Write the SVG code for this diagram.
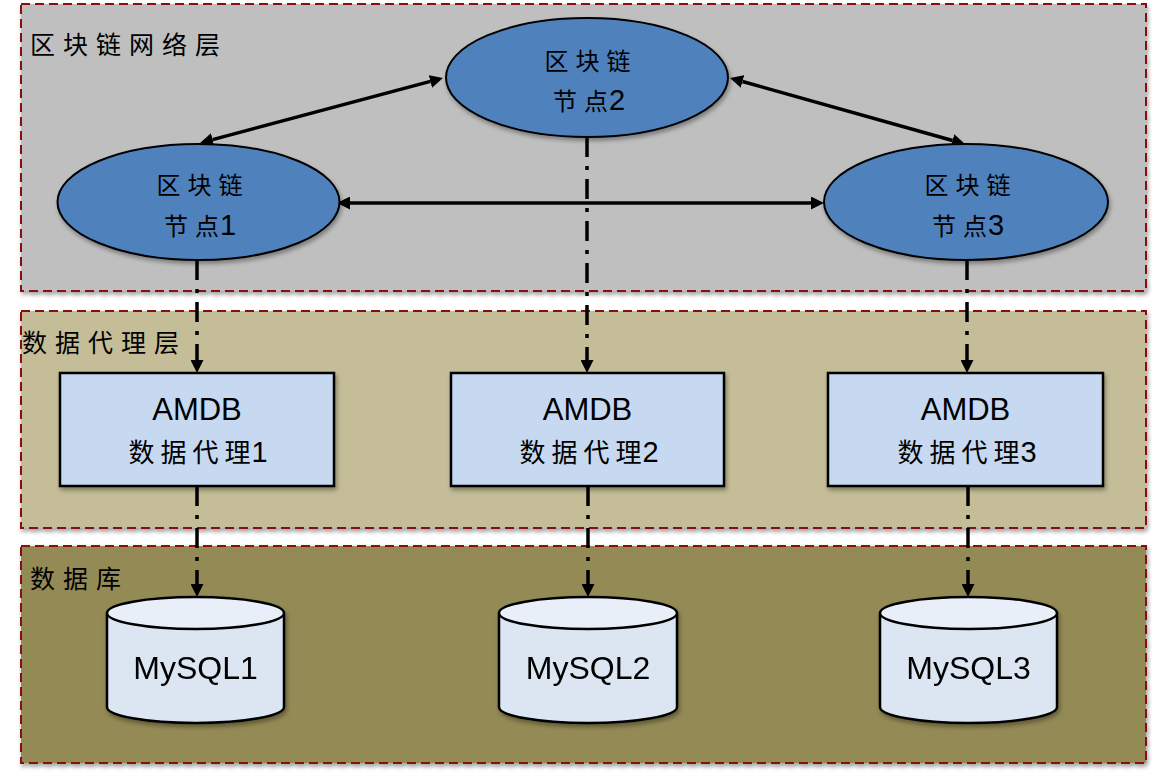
<svg xmlns="http://www.w3.org/2000/svg" width="1153" height="776" viewBox="0 0 1153 776">
<style>
.layer{stroke:#8B0A0A;stroke-width:2;stroke-dasharray:9 5;filter:url(#sh)}
.lbl{font-family:"Liberation Serif","Noto Sans CJK SC",serif;font-size:25px;letter-spacing:8px;fill:#000}
.ell{fill:#4F81BD;stroke:#000;stroke-width:2;filter:url(#sh)}
.box{fill:#C6D9F1;stroke:#000;stroke-width:2.5;filter:url(#sh)}
.cyl{fill:#DCE6F2;stroke:#000;stroke-width:2.5}
.cyltop{fill:#E9EFF8;stroke:#000;stroke-width:2.5}
.t{font-family:"Liberation Sans","Noto Sans CJK SC",sans-serif;fill:#000;text-anchor:middle}
.cj{font-size:24px;letter-spacing:7px}
.cj2{font-size:26px;letter-spacing:6px}
.ns{letter-spacing:1px}
.dg{font-size:29px;letter-spacing:0}
.en{font-size:31px}
.db{font-size:32px}
.arr{fill:none;stroke:#000;stroke-width:3.5}
.dd{fill:none;stroke:#000;stroke-width:3.5;stroke-dasharray:20 9 4 9}
</style>
<defs>
<filter id="sh" x="-10%" y="-10%" width="120%" height="130%">
<feDropShadow dx="1.5" dy="3" stdDeviation="2" flood-color="#000" flood-opacity="0.35"/>
</filter>
<marker id="ah" viewBox="0 0 13 13" refX="0" refY="6.5" markerWidth="13" markerHeight="13" markerUnits="userSpaceOnUse" orient="auto-start-reverse">
<path d="M0,0 L13,6.5 L0,13 z" fill="#000"/>
</marker>
</defs>
<rect width="1153" height="776" fill="#fff"/>
<g id="layers">
<g id="layer-blockchain">
<rect class="layer" x="21" y="4" width="1125" height="287" fill="#BFBFBF"/>
<text class="lbl" x="30" y="54">区块链网络层</text>
</g>
<g id="layer-proxy">
<rect class="layer" x="21" y="311" width="1125" height="217" fill="#C4BD97"/>
<text class="lbl" x="22" y="352">数据代理层</text>
</g>
<g id="layer-db">
<rect class="layer" x="21" y="546" width="1125" height="217" fill="#948A54"/>
<text class="lbl" x="30" y="588">数据库</text>
</g>
</g>
<g id="connectors">
<path class="arr" d="M212.6,139.6 L430.4,81.4" marker-start="url(#ah)" marker-end="url(#ah)"/>
<path class="arr" d="M742.5,81.5 L952.5,140.5" marker-start="url(#ah)" marker-end="url(#ah)"/>
<path class="arr" d="M350,203 L811,203" marker-start="url(#ah)" marker-end="url(#ah)"/>
<path class="dd" d="M197,260 L197,360" marker-end="url(#ah)"/>
<path class="dd" d="M587,137 L587,360" marker-end="url(#ah)"/>
<path class="dd" d="M967,260 L967,360" marker-end="url(#ah)"/>
<path class="dd" d="M197,486 L197,584" marker-end="url(#ah)"/>
<path class="dd" d="M588,486 L588,584" marker-end="url(#ah)"/>
<path class="dd" d="M968,486 L968,584" marker-end="url(#ah)"/>
</g>
<g id="node1">
<ellipse class="ell" cx="198.5" cy="202" rx="141" ry="58"/>
<text class="t cj" x="203" y="194">区块链</text>
<text class="t cj" x="200" y="235">节<tspan class="ns">点</tspan><tspan class="dg">1</tspan></text>
</g>
<g id="node2">
<ellipse class="ell" cx="587" cy="77.5" rx="141" ry="59.5"/>
<text class="t cj" x="591" y="70">区块链</text>
<text class="t cj" x="589" y="110">节<tspan class="ns">点</tspan><tspan class="dg">2</tspan></text>
</g>
<g id="node3">
<ellipse class="ell" cx="966" cy="202" rx="142" ry="58"/>
<text class="t cj" x="971" y="194">区块链</text>
<text class="t cj" x="968" y="235">节<tspan class="ns">点</tspan><tspan class="dg">3</tspan></text>
</g>
<g id="proxy1">
<rect class="box" x="60" y="373" width="274" height="113"/>
<text class="t en" x="197" y="420">AMDB</text>
<text class="t cj2" x="198" y="462">数据代<tspan class="ns">理</tspan><tspan class="dg">1</tspan></text>
</g>
<g id="proxy2">
<rect class="box" x="451" y="373" width="273" height="113"/>
<text class="t en" x="587.5" y="420">AMDB</text>
<text class="t cj2" x="589" y="462">数据代<tspan class="ns">理</tspan><tspan class="dg">2</tspan></text>
</g>
<g id="proxy3">
<rect class="box" x="828" y="373" width="275" height="113"/>
<text class="t en" x="965.5" y="420">AMDB</text>
<text class="t cj2" x="967" y="462">数据代<tspan class="ns">理</tspan><tspan class="dg">3</tspan></text>
</g>
<g id="mysql1" filter="url(#sh)">
<path class="cyl" d="M107,613 L107,707 A88.5,16 0 0 0 284,707 L284,613"/>
<ellipse class="cyltop" cx="195.5" cy="613" rx="88.5" ry="16"/>
<text class="t db" x="195.5" y="679">MySQL1</text>
</g>
<g id="mysql2" filter="url(#sh)">
<path class="cyl" d="M499,613 L499,707 A89,16 0 0 0 677,707 L677,613"/>
<ellipse class="cyltop" cx="588" cy="613" rx="89" ry="16"/>
<text class="t db" x="588" y="679">MySQL2</text>
</g>
<g id="mysql3" filter="url(#sh)">
<path class="cyl" d="M880,613 L880,707 A88.5,16 0 0 0 1057,707 L1057,613"/>
<ellipse class="cyltop" cx="968.5" cy="613" rx="88.5" ry="16"/>
<text class="t db" x="968.5" y="679">MySQL3</text>
</g>
</svg>
